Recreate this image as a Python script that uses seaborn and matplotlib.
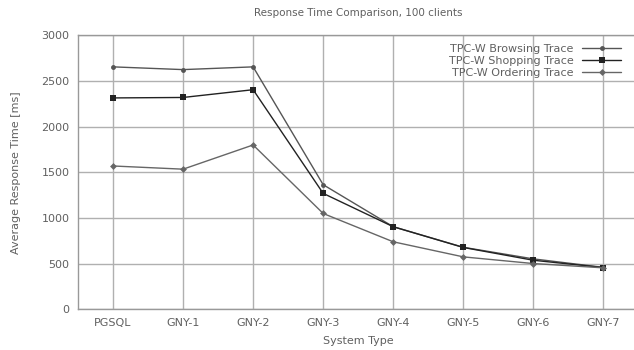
import matplotlib
matplotlib.use("Agg")
import matplotlib.pyplot as plt
import seaborn as sns
import pandas as pd

systems = ["PGSQL", "GNY-1", "GNY-2", "GNY-3", "GNY-4", "GNY-5", "GNY-6", "GNY-7"]
browsing = [2655, 2625, 2655, 1365, 905, 680, 553, 460]
shopping = [2315, 2320, 2405, 1270, 905, 678, 538, 458]
ordering = [1570, 1535, 1800, 1050, 740, 575, 502, 455]
series_names = ["TPC-W Browsing Trace", "TPC-W Shopping Trace", "TPC-W Ordering Trace"]
yticks = [0, 500, 1000, 1500, 2000, 2500, 3000]

rows = []
for name, vals in zip(series_names, [browsing, shopping, ordering]):
    for i, v in enumerate(vals):
        rows.append({"pos": i, "system": systems[i], "value": v, "series": name})
df = pd.DataFrame(rows)

sns.set_theme(style="white")
plt.rcParams["font.family"] = ["DejaVu Sans"]

fig = plt.figure(figsize=(6.34, 3.5), dpi=100)
ax = fig.add_axes([0.123, 0.116, 0.884, 0.783])

markers = {"TPC-W Browsing Trace": "o", "TPC-W Shopping Trace": "s", "TPC-W Ordering Trace": "D"}
sizes = {"TPC-W Browsing Trace": 3.5, "TPC-W Shopping Trace": 5, "TPC-W Ordering Trace": 3.5}
colors = {"TPC-W Browsing Trace": "#555555", "TPC-W Shopping Trace": "#222222", "TPC-W Ordering Trace": "#666666"}

for name in series_names:
    sub = df[df["series"] == name]
    sns.lineplot(data=sub, x="pos", y="value", ax=ax, color=colors[name], lw=1.0,
                 marker=markers[name], markersize=sizes[name], markeredgewidth=0,
                 markerfacecolor=colors[name], label=name, zorder=3)

ax.set_xlim(-0.5, 7.5)
ax.set_ylim(0, 3000)
ax.set_xticks(range(len(systems)))
ax.set_xticklabels(systems)
ax.set_yticks(yticks)
ax.grid(True, color="#b0b0b0", lw=1.0)
ax.set_axisbelow(True)
for s in ax.spines.values():
    s.set_color("#999999")
    s.set_linewidth(1.0)
ax.spines["right"].set_visible(False)
ax.tick_params(axis="both", length=0, labelsize=8, colors="#606060", pad=6)
ax.set_xlabel("System Type", fontsize=8, color="#606060", labelpad=6)
ax.set_ylabel("Average Response Time [ms]", fontsize=8, color="#606060", labelpad=15)
ax.set_title("Response Time Comparison, 100 clients", fontsize=7.5, color="#606060", pad=14)

leg = ax.legend(loc="upper right", frameon=False, fontsize=8, markerfirst=False,
                handlelength=3.5, labelspacing=0.15, borderaxespad=0.4,
                handletextpad=0.8, bbox_to_anchor=(0.985, 1.0))
for t in leg.get_texts():
    t.set_color("#606060")
    t.set_ha("right")

fig.savefig("out.png", dpi=100)
